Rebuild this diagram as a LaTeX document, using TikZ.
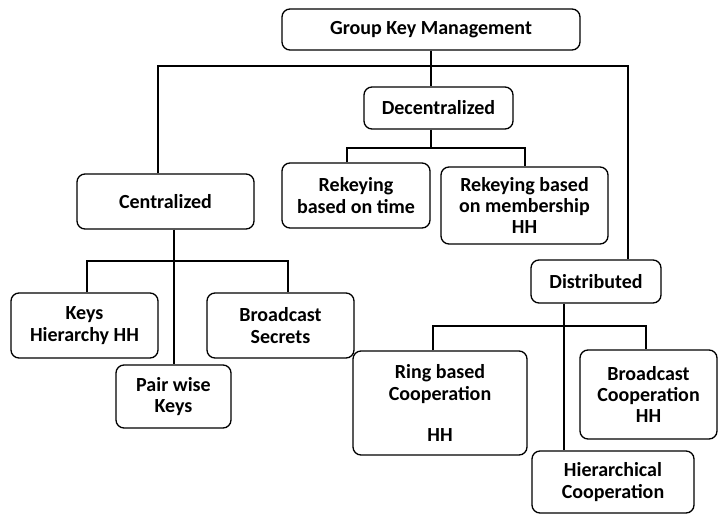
\documentclass[tikz,border=0pt]{standalone}
\usepackage{fontspec}
\setmainfont{Carlito}
\usepackage{tikz}
\usetikzlibrary{calc}

\begin{document}
\begin{tikzpicture}[x=0.75pt,y=-0.75pt,
        box/.style={draw, line width=1pt, rounded corners=6pt, align=center,
            font=\fontsize{15}{16}\selectfont\bfseries, inner sep=2pt},
        link/.style={line width=0.8pt}]
        \useasboundingbox (0,0) rectangle (718,514);

        \node[box, minimum width=298*0.75pt, minimum height=41*0.75pt] (gkm) at (431,29.5) {Group Key Management};
        \node[box, minimum width=149*0.75pt, minimum height=42*0.75pt] (dec) at (438.5,108) {Decentralized};
        \node[box, minimum width=177*0.75pt, minimum height=55*0.75pt] (cen) at (165.5,201.5) {Centralized};
        \node[box, minimum width=130*0.75pt, minimum height=43*0.75pt] (dist) at (596,281.5) {Distributed};

        \node[box, minimum width=148*0.75pt, minimum height=65*0.75pt] (rtime) at (356,195.5) {Rekeying\\based on time};
        \node[box, minimum width=167*0.75pt, minimum height=77*0.75pt] (rmem) at (524.5,205.5) {Rekeying based\\on membership\\HH};

        \node[box, minimum width=147*0.75pt, minimum height=65*0.75pt] (keys) at (84.5,325.5) {Keys\\Hierarchy HH};
        \node[box, minimum width=147*0.75pt, minimum height=65*0.75pt] (bsec) at (280.5,325.5) {Broadcast\\Secrets};
        \node[box, minimum width=115*0.75pt, minimum height=63*0.75pt] (pair) at (173.5,396.5) {Pair wise\\Keys};

        \node[box, minimum width=174*0.75pt, minimum height=104*0.75pt] (ring) at (440,403) {Ring based\\Cooperation\\[15pt]HH};
        \node[box, minimum width=137*0.75pt, minimum height=89*0.75pt] (bcoop) at (648.5,394.5) {Broadcast\\Cooperation\\HH};
        \node[box, minimum width=162*0.75pt, minimum height=62*0.75pt] (hier) at (613,482) {Hierarchical\\Cooperation};

        \coordinate (tl) at (158,66);
        \coordinate (tr) at (628,66);
        \coordinate (dl) at (347,148);
        \coordinate (dr) at (525,148);
        \coordinate (cl) at (87,261);
        \coordinate (cr) at (288,261);
        \coordinate (cm) at (174,0);
        \coordinate (sl) at (433,326);
        \coordinate (sr) at (646,326);
        \coordinate (sm) at (564,0);

        \draw[link] (gkm.south) -- (gkm.south |- dec.north);
        \draw[link] (cen.north -| tl) -- (tl) -- (tr) -- (dist.north -| tr);

        \draw[link] (dec.south -| gkm.south) -- (gkm.south |- dl);
        \draw[link] (rtime.north -| dl) -- (dl) -- (dr) -- (rmem.north -| dr);

        \draw[link] (cen.south -| cm) -- (pair.north -| cm);
        \draw[link] (keys.north -| cl) -- (cl) -- (cr) -- (bsec.north -| cr);

        \draw[link] (dist.south -| sm) -- (hier.north -| sm);
        \draw[link] (ring.north -| sl) -- (sl) -- (sr) -- (bcoop.north -| sr);
    \end{tikzpicture}
\end{document}
